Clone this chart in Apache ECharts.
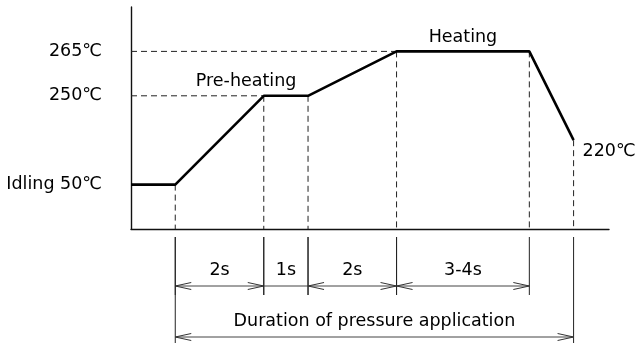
<!DOCTYPE html>
<html>
<head>
<meta charset="utf-8">
<script src="https://cdn.jsdelivr.net/npm/echarts@6/dist/echarts.min.js"></script>
<style>
  html, body { margin: 0; padding: 0; background: #fff; }
  #chart { width: 640px; height: 344px; }
</style>
</head>
<body>
<div id="chart"></div>
<script>
// Schematic temperature levels, evenly spaced on the vertical axis
const levelNames = ['base', '50', '220', '250', '265', 'top'];
const axisLevelLabels = { '50': 'Idling 50℃', '250': '250℃', '265': '265℃' };

// Temperature profile: breakpoints in seconds and the level reached there
const profileTimes = [0, 1, 3, 4, 6, 9, 10];
const profileTemps = ['50', '50', '250', '250', '265', '265', '220'];
const endLabel = '220℃';

// Phase captions
const phaseNames = ['Pre-heating', 'Heating'];
const phaseTimes = [2.6, 7.5];
const phaseTemps = ['250', '265'];

// Step durations dimensioned below the time axis
const stepLabels = ['2s', '1s', '2s', '3-4s'];
const stepStarts = [1, 3, 4, 6];
const stepEnds = [3, 4, 6, 9];

// Overall pressure span
const totalLabel = 'Duration of pressure application';
const totalStart = 1;
const totalEnd = 10;

const timeMax = 10.8;

const FONT = 'DejaVu Sans';
const FONT_SIZE = 17.5;
const lvl = t => levelNames.indexOf(t);

const profileData = profileTimes.map((t, i) => [t, lvl(profileTemps[i])]);
const lastIdx = profileTimes.length - 1;

// Dashed guides: horizontal ones to labelled levels, vertical ones down to the axis
const guides = [];
Object.keys(axisLevelLabels).forEach(k => {
  const i = profileTemps.indexOf(k);
  if (k !== '50' && i >= 0) guides.push([0, lvl(k), profileTimes[i], lvl(k)]);
});
const seen = new Set();
profileTimes.forEach((t, i) => {
  if (t > 0 && !seen.has(t)) {
    seen.add(t);
    guides.push([t, lvl(profileTemps[i]), t, 0]);
  }
});

// Dimension rows: [start, end, row]
const dims = stepLabels.map((s, i) => [stepStarts[i], stepEnds[i], 0]);
dims.push([totalStart, totalEnd, 1]);
const dimTexts = stepLabels.concat([totalLabel]);

const rowLayout = [
  { arrow: 57, text: 41, extEnd: 66 },
  { arrow: 108, text: 92, extEnd: 114 }
];

function arrowHead(x, y, dir) {
  const len = 16, half = 3.5;
  return {
    type: 'polyline',
    shape: { points: [[x + dir * len, y - half], [x, y], [x + dir * len, y + half]] },
    style: { stroke: '#333', lineWidth: 1, fill: null }
  };
}

const textStyle = { color: '#000', fontFamily: FONT, fontSize: FONT_SIZE };

const chart = echarts.init(document.getElementById('chart'), null, { renderer: 'canvas' });
chart.setOption({
  animation: false,
  backgroundColor: '#fff',
  grid: { left: 131, right: 31, top: 7, bottom: 115, containLabel: false },
  xAxis: {
    type: 'value', min: 0, max: timeMax,
    axisLine: { show: true, onZero: false, lineStyle: { color: '#111', width: 1.4 } },
    axisTick: { show: false }, axisLabel: { show: false }, splitLine: { show: false }
  },
  yAxis: {
    type: 'value', min: 0, max: levelNames.length - 1, interval: 1,
    axisLine: { show: true, onZero: false, lineStyle: { color: '#111', width: 1.4 } },
    axisTick: { show: false }, splitLine: { show: false },
    axisLabel: Object.assign({
      margin: 29,
      formatter: v => axisLevelLabels[levelNames[v]] || ''
    }, textStyle)
  },
  series: [
    {
      type: 'custom', coordinateSystem: 'cartesian2d', silent: true, z: 1,
      data: guides, encode: { x: [0, 2], y: [1, 3] },
      renderItem: (p, api) => {
        const a = api.coord([api.value(0), api.value(1)]);
        const b = api.coord([api.value(2), api.value(3)]);
        return {
          type: 'line',
          shape: { x1: a[0], y1: a[1], x2: b[0], y2: b[1] },
          style: { stroke: '#222', lineWidth: 1, lineDash: [6, 4] }
        };
      }
    },
    {
      type: 'line', data: profileData, symbol: 'none', z: 5,
      lineStyle: { color: '#000', width: 2.6 }
    },
    {
      type: 'scatter', symbolSize: 0, silent: true, z: 6,
      itemStyle: { opacity: 1 },
      data: phaseNames.map((n, i) => ({ name: n, value: [phaseTimes[i], lvl(phaseTemps[i])] })),
      label: Object.assign({ show: true, position: 'top', distance: 5, formatter: '{b}' }, textStyle)
    },
    {
      type: 'scatter', symbolSize: 0, silent: true, z: 6,
      itemStyle: { opacity: 1 },
      data: [{ name: endLabel, value: profileData[lastIdx] }],
      label: Object.assign({
        show: true, position: 'right', distance: 9, offset: [0, 11], formatter: '{b}'
      }, textStyle)
    },
    {
      type: 'custom', coordinateSystem: 'cartesian2d', silent: true, z: 4, clip: false,
      data: dims, encode: { x: [0, 1] },
      renderItem: (p, api) => {
        const baseY = api.coord([0, 0])[1];
        const x0 = api.coord([api.value(0), 0])[0];
        const x1 = api.coord([api.value(1), 0])[0];
        const row = rowLayout[api.value(2)];
        const y = baseY + row.arrow;
        const children = [];
        [x0, x1].forEach(x => children.push({
          type: 'line',
          shape: { x1: x, y1: baseY + 8, x2: x, y2: baseY + row.extEnd },
          style: { stroke: '#222', lineWidth: 1 }
        }));
        children.push({
          type: 'line', shape: { x1: x0, y1: y, x2: x1, y2: y },
          style: { stroke: '#444', lineWidth: 1 }
        });
        if (x1 - x0 > 50) {
          children.push(arrowHead(x0, y, 1));
          children.push(arrowHead(x1, y, -1));
        }
        children.push({
          type: 'text',
          style: {
            text: dimTexts[p.dataIndex], x: (x0 + x1) / 2, y: baseY + row.text,
            align: 'center', verticalAlign: 'middle',
            fontFamily: FONT, fontSize: FONT_SIZE, fill: '#000'
          }
        });
        return { type: 'group', children };
      }
    }
  ]
});
</script>
</body>
</html>
